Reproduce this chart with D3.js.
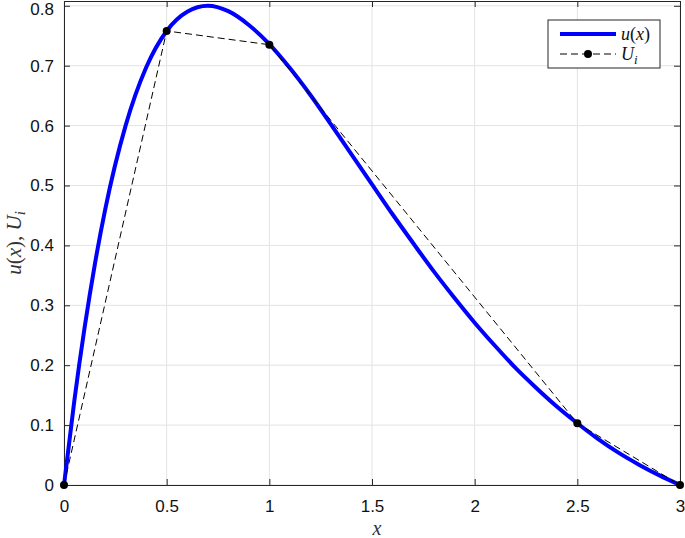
<!DOCTYPE html>
<html>
<head>
<meta charset="utf-8">
<script src="https://cdn.jsdelivr.net/npm/d3@7"></script>
<style>
  body { margin: 0; background: #fff; }
  svg { display: block; }
</style>
</head>
<body>
<div id="chart-area"></div>
<script>
// curve u(x)
const xs = [0, 0.05, 0.1, 0.15, 0.2, 0.3, 0.4, 0.5, 0.6, 0.7, 0.8, 0.9, 1.0, 1.1, 1.2, 1.3, 1.4, 1.5,
  1.6, 1.7, 1.8, 1.9, 2.0, 2.1, 2.2, 2.3, 2.4, 2.5, 2.6, 2.7, 2.8, 2.9, 3.0];
const uValues = [0, 0.140, 0.262, 0.368, 0.459, 0.600, 0.697, 0.758, 0.790, 0.800, 0.791, 0.768, 0.736,
  0.696, 0.651, 0.602, 0.552, 0.502, 0.452, 0.404, 0.357, 0.313, 0.271, 0.232, 0.195, 0.162, 0.131,
  0.103, 0.077, 0.054, 0.034, 0.016, 0];
// nodal values U_i
const nodes = [0, 0.5, 1, 2.5, 3];
const nodeValues = [0, 0.758, 0.735, 0.103, 0];
const xTicks = [0, 0.5, 1, 1.5, 2, 2.5, 3];
const yTicks = [0, 0.1, 0.2, 0.3, 0.4, 0.5, 0.6, 0.7, 0.8];

const width = 685, height = 538;
const margin = { top: 1, right: 5, bottom: 53, left: 64 };
const innerW = width - margin.left - margin.right;
const innerH = height - margin.top - margin.bottom;

const svg = d3.select('#chart-area').append('svg')
  .attr('width', width).attr('height', height);
const g = svg.append('g').attr('transform', `translate(${margin.left},${margin.top})`);

const x = d3.scaleLinear().domain([0, 3]).range([0, innerW]);
const y = d3.scaleLinear().domain([0, 0.808]).range([innerH, 0]);

// grid
g.append('g').selectAll('line').data(xTicks).enter().append('line')
  .attr('x1', d => x(d)).attr('x2', d => x(d)).attr('y1', 0).attr('y2', innerH)
  .attr('stroke', '#e3e3e3').attr('stroke-width', 1);
g.append('g').selectAll('line').data(yTicks).enter().append('line')
  .attr('y1', d => y(d)).attr('y2', d => y(d)).attr('x1', 0).attr('x2', innerW)
  .attr('stroke', '#e3e3e3').attr('stroke-width', 1);

// axes, ticks pointing inward
const font = '"Liberation Sans", Arial, Helvetica, sans-serif';
const xAxis = g.append('g').attr('transform', `translate(0,${innerH})`)
  .call(d3.axisBottom(x).tickValues(xTicks).tickSizeInner(-6).tickSizeOuter(0).tickPadding(15).tickFormat(d3.format('')));
const xTop = g.append('g')
  .call(d3.axisTop(x).tickValues(xTicks).tickSizeInner(-6).tickSizeOuter(0).tickFormat(''));
const yAxis = g.append('g')
  .call(d3.axisLeft(y).tickValues(yTicks).tickSizeInner(-6).tickSizeOuter(0).tickPadding(10).tickFormat(d3.format('')));
const yRight = g.append('g').attr('transform', `translate(${innerW},0)`)
  .call(d3.axisRight(y).tickValues(yTicks).tickSizeInner(-6).tickSizeOuter(0).tickFormat(''));

[xAxis, xTop, yAxis, yRight].forEach(a => {
  a.selectAll('path').attr('stroke', '#262626').attr('stroke-width', 1);
  a.selectAll('line').attr('stroke', '#262626');
  a.selectAll('text').style('font-family', font).style('font-size', '17px').attr('fill', '#111');
});
xAxis.selectAll('text').attr('dy', '0.71em');
// keep the top label inside the page
yAxis.selectAll('text').filter(d => d === 0.8).attr('dy', '0.53em');

// curve u(x)
const curve = d3.line()
  .x((d, i) => x(xs[i]))
  .y(d => y(d))
  .curve(d3.curveMonotoneX);
g.append('path').datum(uValues)
  .attr('d', curve)
  .attr('fill', 'none').attr('stroke', '#0000ff').attr('stroke-width', 4);

// U_i, dashed with markers
const nodeLine = d3.line().x((d, i) => x(nodes[i])).y(d => y(d));
g.append('path').datum(nodeValues)
  .attr('d', nodeLine)
  .attr('fill', 'none').attr('stroke', '#000').attr('stroke-width', 1)
  .attr('stroke-dasharray', '7,4');
g.selectAll('.node').data(nodeValues).enter().append('circle')
  .attr('class', 'node')
  .attr('cx', (d, i) => x(nodes[i])).attr('cy', d => y(d)).attr('r', 4)
  .attr('fill', '#000');

// axis labels
const serif = '"Liberation Serif", "DejaVu Serif", serif';
svg.append('text')
  .attr('x', margin.left + innerW / 2 + 5).attr('y', 535)
  .attr('text-anchor', 'middle')
  .style('font-family', serif).style('font-style', 'italic').style('font-size', '20px')
  .attr('fill', '#333')
  .text('x');

const yl = svg.append('text')
  .attr('transform', `translate(21,${margin.top + innerH / 2}) rotate(-90)`)
  .attr('text-anchor', 'middle')
  .style('font-family', serif).style('font-size', '21px')
  .attr('fill', '#333');
yl.append('tspan').style('font-style', 'italic').text('u');
yl.append('tspan').text('(');
yl.append('tspan').style('font-style', 'italic').text('x');
yl.append('tspan').text('), ');
yl.append('tspan').style('font-style', 'italic').text('U');
yl.append('tspan').style('font-style', 'italic').style('font-size', '15px').attr('dy', 4).text('i');

// legend
const legend = svg.append('g').attr('transform', 'translate(548,20)');
legend.append('rect').attr('width', 112).attr('height', 48)
  .attr('fill', '#fff').attr('stroke', '#262626').attr('stroke-width', 1);
legend.append('line').attr('x1', 12).attr('x2', 68).attr('y1', 14).attr('y2', 14)
  .attr('stroke', '#0000ff').attr('stroke-width', 4);
legend.append('line').attr('x1', 12).attr('x2', 68).attr('y1', 34).attr('y2', 34)
  .attr('stroke', '#000').attr('stroke-width', 1).attr('stroke-dasharray', '7,4');
legend.append('circle').attr('cx', 40).attr('cy', 34).attr('r', 4).attr('fill', '#000');

const lt1 = legend.append('text').attr('x', 73).attr('y', 20)
  .style('font-family', serif).style('font-size', '18px').attr('fill', '#111');
lt1.append('tspan').style('font-style', 'italic').text('u');
lt1.append('tspan').text('(');
lt1.append('tspan').style('font-style', 'italic').text('x');
lt1.append('tspan').text(')');
const lt2 = legend.append('text').attr('x', 73).attr('y', 40)
  .style('font-family', serif).style('font-size', '18px').attr('fill', '#111');
lt2.append('tspan').style('font-style', 'italic').text('U');
lt2.append('tspan').style('font-style', 'italic').style('font-size', '13px').attr('dy', 4).text('i');
</script>
</body>
</html>
